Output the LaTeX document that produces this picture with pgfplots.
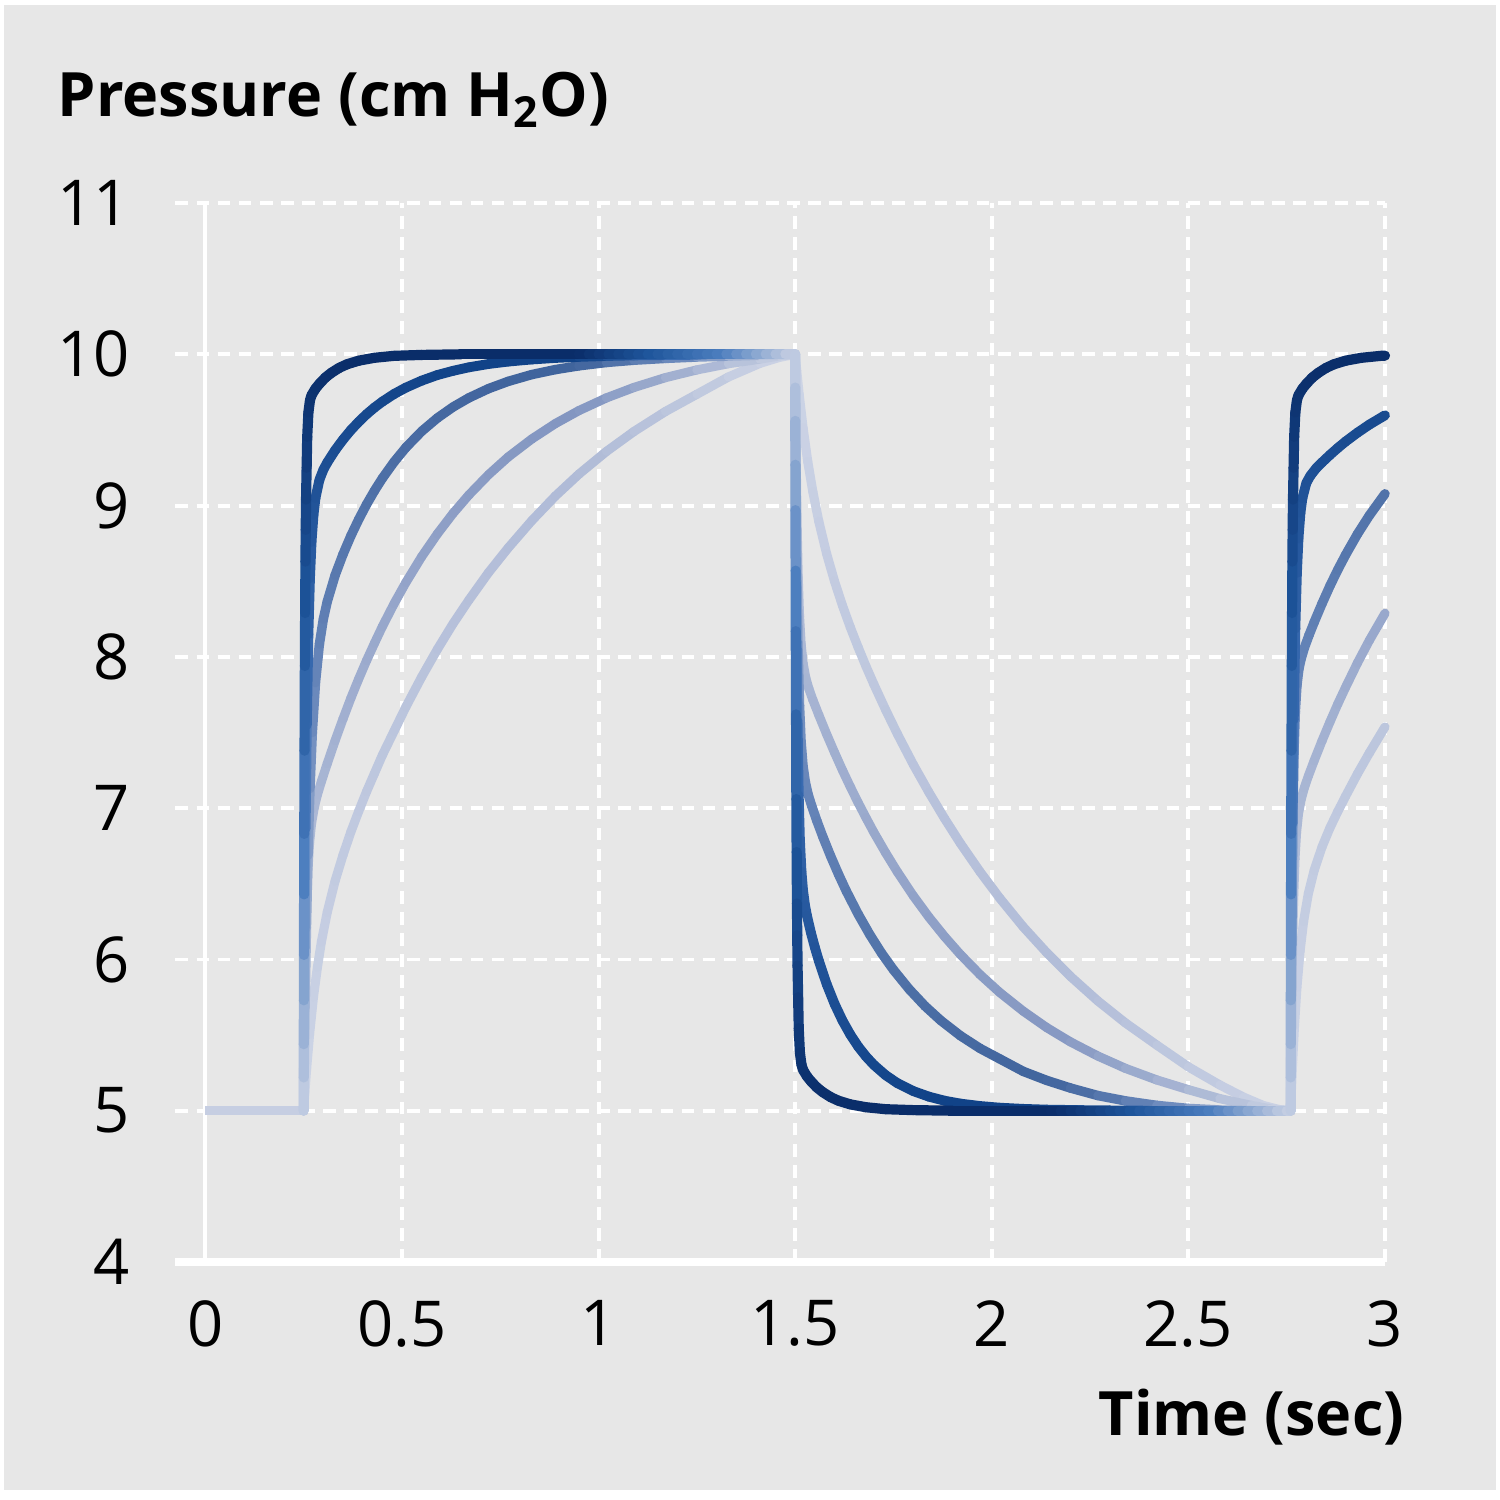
\documentclass[border=0pt]{standalone}
\usepackage{pgfplots}
\pgfplotsset{compat=1.18}
\usepackage{fontspec}
\setmainfont{Open Sans}
\definecolor{bg}{RGB}{231,231,231}
\definecolor{plat}{RGB}{198,206,226}
\pgfplotsset{
 colormap={cA}{rgb255=(198,207,227) rgb255=(75,125,190) rgb255=(30,85,155) rgb255=(10,45,105)},
 colormap={cB}{rgb255=(198,207,227) rgb255=(60,110,180) rgb255=(16,66,135)},
 colormap={cC}{rgb255=(200,208,228) rgb255=(110,140,190) rgb255=(62,98,155)},
 colormap={cD}{rgb255=(202,210,228) rgb255=(125,145,190)},
 colormap={cE}{rgb255=(206,213,230) rgb255=(170,182,212)},
}
\newcommand{\riseMeta}{max(0,(\thisrow{y}-5)/5)*min(1,(1.5-\thisrow{t})/0.55)}
\newcommand{\fallMeta}{max(0,(10-\thisrow{y})/5)*min(1,(2.76-\thisrow{t})/0.6)}
\newcommand{\sriseMeta}{max(0,(\thisrow{y}-5)/5)}
\begin{document}
\begin{tikzpicture}
\fill[white] (0,0) rectangle (15cm,15cm);
\useasboundingbox (0,0) rectangle (15cm,15cm);
\fill[bg] (0.04cm,0.1cm) rectangle (14.96cm,14.95cm);
\begin{axis}[
 at={(1.755cm,2.38cm)}, anchor=south west,
 scale only axis, width=12.095cm, height=10.59cm,
 xmin=-0.076, xmax=3, ymin=4, ymax=11,
 clip=false,
 axis line style={draw=none},
 xtick={0,0.5,1,1.5,2,2.5,3},
 ytick={4,5,6,7,8,9,10,11},
 major tick length=0pt,
 xmajorgrids, ymajorgrids,
 grid style={white, line width=1.1pt, dash pattern=on 3.6pt off 2.4pt},
 /pgf/number format/assume math mode=true,
 tick label style={font=\fontsize{18}{20}\selectfont},
 xticklabel style={anchor=north, inner sep=0pt, yshift=-0.38cm},
 yticklabel style={anchor=east, inner sep=0pt, xshift=-0.45cm},
 point meta min=0, point meta max=1,
]
\draw[white, line width=1.1pt] (axis cs:0,4) -- (axis cs:0,11);
\draw[white, line width=2pt] (axis cs:-0.076,4) -- (axis cs:3,4);

% initial plateau
\addplot[plat, line width=2.7pt] coordinates {(0,5) (0.25,5)};

% ---------- curve 5 (lightest) ----------
\addplot[mesh, line width=2.6pt, line cap=round, colormap name=cE, point meta={\riseMeta}] table {
t y
0.25 5
0.253 5.12
0.2575 5.28
0.265 5.507
0.275 5.755
0.285 5.95
0.295 6.116
0.31 6.313
0.33 6.52
0.35 6.69
0.37 6.843
0.39 6.98
0.41 7.11
0.43 7.23
0.45 7.35
0.48 7.51
0.51 7.67
0.55 7.867
0.59 8.05
0.63 8.22
0.67 8.375
0.72 8.557
0.77 8.72
0.83 8.90
0.89 9.063
0.95 9.208
1.02 9.358
1.09 9.49
1.17 9.622
1.25 9.736
1.33 9.85
1.41 9.94
1.46 9.98
1.5 10
};
\addplot[mesh, line width=2.6pt, line cap=round, colormap name=cE, point meta={\fallMeta}] table {
t y
1.5 10
1.504 9.889
1.51 9.736
1.52 9.514
1.532 9.29
1.545 9.09
1.56 8.896
1.58 8.681
1.60 8.50
1.62 8.341
1.64 8.197
1.66 8.064
1.68 7.938
1.70 7.819
1.73 7.65
1.76 7.49
1.80 7.29
1.84 7.105
1.88 6.931
1.92 6.768
1.97 6.58
2.02 6.406
2.08 6.215
2.14 6.044
2.20 5.888
2.27 5.725
2.34 5.58
2.42 5.433
2.50 5.29
2.58 5.17
2.64 5.09
2.69 5.035
2.73 5.008
2.76 5
};
\addplot[mesh, line width=2.6pt, line cap=round, colormap name=cE, point meta={\sriseMeta}] table {
t y
2.76 5
2.762 5.14
2.765 5.32
2.77 5.57
2.776 5.815
2.784 6.056
2.793 6.252
2.805 6.435
2.82 6.59
2.84 6.745
2.86 6.87
2.88 6.978
2.90 7.08
2.93 7.227
2.96 7.364
3.0 7.537
};

% ---------- curve 4 ----------
\addplot[mesh, line width=2.6pt, line cap=round, colormap name=cD, point meta={\riseMeta}] table {
t y
0.25 5
0.2506 5.18
0.2515 5.41
0.253 5.73
0.255 6.056
0.2575 6.34
0.261 6.60
0.265 6.775
0.27 6.90
0.277 7.006
0.285 7.09
0.295 7.176
0.31 7.295
0.33 7.447
0.35 7.59
0.37 7.727
0.39 7.855
0.41 7.976
0.43 8.09
0.45 8.20
0.48 8.352
0.51 8.492
0.55 8.662
0.59 8.813
0.63 8.949
0.67 9.07
0.72 9.204
0.77 9.321
0.83 9.44
0.89 9.542
0.95 9.628
1.02 9.712
1.09 9.781
1.17 9.846
1.25 9.897
1.33 9.938
1.41 9.968
1.46 9.99
1.5 10
};
\addplot[mesh, line width=2.6pt, line cap=round, colormap name=cD, point meta={\fallMeta}] table {
t y
1.5 10
1.5006 9.81
1.5015 9.554
1.503 9.204
1.505 8.85
1.5075 8.54
1.511 8.267
1.515 8.085
1.52 7.958
1.527 7.86
1.535 7.788
1.545 7.715
1.56 7.616
1.58 7.489
1.60 7.368
1.62 7.252
1.64 7.142
1.66 7.037
1.68 6.937
1.70 6.84
1.73 6.705
1.76 6.578
1.80 6.422
1.84 6.28
1.88 6.151
1.92 6.033
1.97 5.90
2.02 5.782
2.08 5.658
2.14 5.549
2.20 5.455
2.27 5.361
2.34 5.28
2.42 5.203
2.50 5.139
2.58 5.08
2.66 5.035
2.71 5.012
2.76 5
};
\addplot[mesh, line width=2.6pt, line cap=round, colormap name=cD, point meta={\sriseMeta}] table {
t y
2.76 5
2.7606 5.18
2.7615 5.43
2.763 5.76
2.765 6.10
2.7675 6.40
2.771 6.664
2.775 6.84
2.78 6.965
2.787 7.06
2.795 7.136
2.805 7.212
2.82 7.315
2.84 7.446
2.86 7.57
2.88 7.689
2.90 7.80
2.93 7.96
2.96 8.108
3.0 8.288
};

% ---------- curve 3 ----------
\addplot[mesh, line width=2.7pt, line cap=round, colormap name=cC, point meta={\riseMeta}] table {
t y
0.25 5
0.2515 5.31
0.2535 5.68
0.257 6.21
0.261 6.69
0.266 7.13
0.272 7.50
0.28 7.83
0.29 8.085
0.30 8.25
0.31 8.366
0.33 8.54
0.35 8.678
0.37 8.80
0.39 8.909
0.41 9.008
0.43 9.098
0.45 9.18
0.48 9.289
0.51 9.384
0.55 9.491
0.59 9.579
0.63 9.652
0.67 9.712
0.72 9.773
0.77 9.821
0.83 9.866
0.89 9.899
0.95 9.924
1.02 9.946
1.09 9.961
1.17 9.973
1.25 9.982
1.33 9.988
1.41 9.994
1.5 10
};
\addplot[mesh, line width=2.7pt, line cap=round, colormap name=cC, point meta={\fallMeta}] table {
t y
1.5 10
1.5006 9.74
1.5015 9.40
1.503 8.93
1.505 8.46
1.5075 8.045
1.511 7.68
1.515 7.44
1.52 7.277
1.526 7.17
1.533 7.09
1.542 7.015
1.555 6.917
1.57 6.813
1.59 6.684
1.61 6.564
1.63 6.452
1.66 6.30
1.69 6.163
1.72 6.04
1.75 5.931
1.79 5.803
1.83 5.692
1.87 5.597
1.92 5.496
1.97 5.412
2.02 5.343
2.08 5.26
2.14 5.20
2.20 5.15
2.27 5.10
2.34 5.065
2.42 5.035
2.50 5.015
2.58 5.005
2.66 5.0
2.71 5
2.76 5
};
\addplot[mesh, line width=2.7pt, line cap=round, colormap name=cC, point meta={\sriseMeta}] table {
t y
2.76 5
2.7605 5.27
2.76125 5.63
2.7625 6.12
2.764 6.57
2.766 7.0
2.769 7.41
2.772 7.64
2.776 7.81
2.781 7.92
2.787 7.99
2.795 8.06
2.807 8.145
2.82 8.23
2.84 8.353
2.86 8.469
2.88 8.576
2.90 8.675
2.93 8.812
2.96 8.934
3.0 9.078
};

% ---------- curve 2 ----------
\addplot[mesh, line width=2.8pt, line cap=round, colormap name=cB, point meta={\riseMeta}] table {
t y
0.25 5
0.251 5.47
0.2525 6.075
0.255 6.865
0.258 7.55
0.262 8.15
0.266 8.52
0.27 8.76
0.275 8.94
0.28 9.05
0.29 9.17
0.30 9.237
0.31 9.285
0.33 9.366
0.35 9.436
0.37 9.499
0.39 9.554
0.41 9.604
0.43 9.648
0.45 9.687
0.48 9.738
0.51 9.78
0.55 9.826
0.59 9.863
0.63 9.891
0.67 9.914
0.72 9.936
0.77 9.952
0.83 9.966
0.89 9.976
0.95 9.983
1.02 9.989
1.09 9.993
1.17 9.995
1.25 9.997
1.275 10
1.3 10
1.325 10
1.35 10
1.375 10
1.4 10
1.425 10
1.45 10
1.475 10
1.5 10
};
\addplot[mesh, line width=2.8pt, line cap=round, colormap name=cB, point meta={\fallMeta}] table {
t y
1.5 10
1.5005 9.674
1.5012 9.27
1.5025 8.65
1.504 8.1
1.506 7.577
1.509 7.083
1.512 6.79
1.516 6.58
1.52 6.455
1.525 6.357
1.53 6.289
1.54 6.177
1.55 6.08
1.56 5.992
1.58 5.837
1.60 5.707
1.62 5.597
1.64 5.504
1.66 5.425
1.68 5.359
1.70 5.303
1.73 5.235
1.76 5.182
1.80 5.13
1.84 5.093
1.88 5.066
1.92 5.047
1.97 5.031
2.02 5.02
2.08 5.012
2.14 5.007
2.22 5.004
2.3 5.002
2.4 5
2.45 5
2.5 5
2.55 5
2.6 5
2.65 5
2.7 5
2.76 5
};
\addplot[mesh, line width=2.8pt, line cap=round, colormap name=cB, point meta={\sriseMeta}] table {
t y
2.76 5
2.761 5.48
2.7625 6.095
2.765 6.9
2.768 7.587
2.772 8.187
2.776 8.555
2.78 8.783
2.785 8.953
2.79 9.05
2.80 9.15
2.81 9.197
2.825 9.247
2.84 9.286
2.86 9.335
2.88 9.381
2.90 9.424
2.93 9.482
2.96 9.535
3.0 9.597
};

% ---------- curve 1 (darkest) ----------
\addplot[mesh, line width=2.9pt, line cap=round, colormap name=cA, point meta={\riseMeta}] table {
t y
0.25 5
0.25015 5.22
0.2503 5.44
0.2505 5.73
0.25075 6.03
0.2511 6.43
0.2515 6.83
0.2522 7.38
0.253 7.94
0.2537 8.29
0.2545 8.63
0.2552 8.84
0.256 9.04
0.2575 9.25
0.259 9.455
0.262 9.616
0.266 9.696
0.27 9.73
0.28 9.773
0.29 9.805
0.305 9.846
0.32 9.877
0.34 9.91
0.36 9.934
0.39 9.958
0.43 9.977
0.48 9.99
0.55 9.996
0.65 10
0.7 10
0.75 10
0.8 10
0.85 10
0.9 10
0.95 10
0.975 10
1.0 10
1.025 10
1.05 10
1.075 10
1.1 10
1.125 10
1.15 10
1.175 10
1.2 10
1.225 10
1.25 10
1.275 10
1.3 10
1.325 10
1.35 10
1.375 10
1.4 10
1.425 10
1.45 10
1.475 10
1.5 10
};
\addplot[mesh, line width=2.9pt, line cap=round, colormap name=cA, point meta={\fallMeta}] table {
t y
1.5 10
1.50015 9.78
1.5003 9.56
1.5005 9.27
1.50075 8.97
1.5011 8.57
1.5015 8.17
1.5022 7.62
1.503 7.06
1.5037 6.71
1.5045 6.37
1.5052 6.16
1.506 5.96
1.5075 5.75
1.509 5.545
1.512 5.384
1.516 5.304
1.52 5.27
1.53 5.227
1.54 5.195
1.555 5.154
1.57 5.123
1.59 5.09
1.61 5.066
1.64 5.042
1.68 5.023
1.73 5.01
1.8 5.004
1.9 5
1.95 5
2.0 5
2.05 5
2.1 5
2.15 5
2.175 5
2.2 5
2.225 5
2.25 5
2.275 5
2.3 5
2.325 5
2.35 5
2.375 5
2.4 5
2.425 5
2.45 5
2.475 5
2.5 5
2.525 5
2.55 5
2.575 5
2.6 5
2.625 5
2.65 5
2.675 5
2.7 5
2.725 5
2.75 5
2.76 5
};
\addplot[mesh, line width=2.9pt, line cap=round, colormap name=cA, point meta={\sriseMeta}] table {
t y
2.76 5
2.76015 5.22
2.7603 5.44
2.7605 5.73
2.76075 6.03
2.7611 6.43
2.7615 6.83
2.7622 7.38
2.763 7.94
2.7637 8.29
2.7645 8.63
2.7652 8.84
2.766 9.04
2.7675 9.25
2.769 9.455
2.772 9.616
2.776 9.696
2.78 9.73
2.79 9.773
2.80 9.805
2.815 9.846
2.83 9.877
2.85 9.91
2.87 9.934
2.90 9.958
2.94 9.977
2.99 9.99
3.0 9.991
};
\end{axis}
\node[anchor=base west, inner sep=0pt, font=\bfseries\fontsize{17.4}{20}\selectfont] at (0.57cm,13.83cm) {Pressure (cm H\textsubscript{2}O)};
\node[anchor=base east, inner sep=0pt, font=\bfseries\fontsize{17.4}{20}\selectfont] at (14.05cm,0.65cm) {Time (sec)};
\end{tikzpicture}
\end{document}
